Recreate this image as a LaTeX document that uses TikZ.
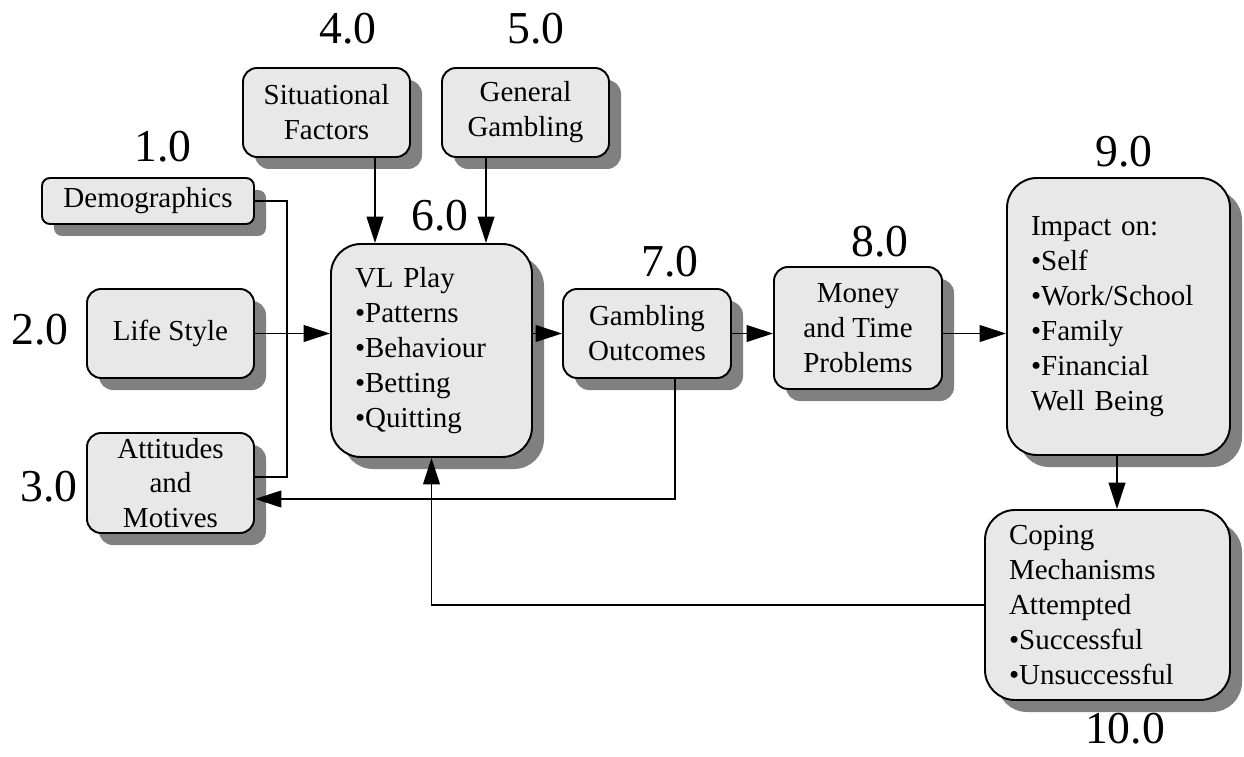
\documentclass[tikz,border=0pt]{standalone}
\usepackage{fontspec}
\setmainfont{Liberation Serif}
\usetikzlibrary{arrows.meta,shadows,calc}
\definecolor{boxfill}{HTML}{E8E8E8}
\definecolor{shadowgray}{HTML}{808080}
\begin{document}
\begin{tikzpicture}[x=0.02cm,y=-0.02cm,
  box/.style={draw=black,line width=1.1pt,fill=boxfill,rounded corners=0.28cm,
    drop shadow={shadow xshift=0.24cm,shadow yshift=-0.24cm,fill=shadowgray,opacity=1},
    font=\fontsize{16.5}{19.85}\selectfont,inner sep=0pt,align=center},
  bigbox/.style={box,rounded corners=0.6cm,align=left,inner xsep=0.48cm},
  sz/.style 2 args={minimum width=#1*0.02cm,minimum height=#2*0.02cm},
  tw/.style={text width=#1*0.02cm},
  num/.style={font=\fontsize{26}{30}\selectfont,inner sep=0pt},
  conn/.style={line width=1pt},
  arr/.style={conn,-{Triangle[length=15pt,width=9.5pt]}}]
\useasboundingbox (0,0) rectangle (1244,757);
% boxes
\node[box,rounded corners=0.16cm,sz={212}{46}] (demo) at (148,201) {Demographics};
\node[box,sz={167}{89}] (life) at (170.5,333.5) {Life Style};
\node[box,sz={167}{100}] (att) at (170.5,483) {Attitudes\\and\\Motives};
\node[box,sz={167}{89}] (sit) at (326.5,112.5) {Situational\\Factors};
\node[box,sz={167}{89}] (gen) at (525.5,112.5) {General\\Gambling};
\node[bigbox,sz={201}{213},tw={153}] (vl) at (431.5,350.5) {VL Play\\•Patterns\\•Behaviour\\•Betting\\•Quitting};
\node[box,sz={168}{89}] (go) at (647,333.5) {Gambling\\Outcomes};
\node[box,sz={168}{122}] (money) at (858,328) {Money\\and Time\\Problems};
\node[bigbox,sz={223}{277},tw={175}] (impact) at (1118.5,316.5) {Impact on:\\•Self\\•Work/School\\•Family\\•Financial\\Well Being};
\node[bigbox,sz={245}{190},tw={197}] (coping) at (1107.5,605) {Coping\\Mechanisms\\Attempted\\•Successful\\•Unsuccessful};
% numbers
\node[num] (n1) at (163,147) {1.0};
\node[num] (n2) at (40,330) {2.0};
\node[num] (n3) at (49,487) {3.0};
\node[num] (n4) at (348,29) {4.0};
\node[num] (n5) at (536,29) {5.0};
\node[num] (n6) at (440,216) {6.0};
\node[num] (n7) at (670,262) {7.0};
\node[num] (n8) at (880,242) {8.0};
\node[num] (n9) at (1124,152) {9.0};
\node[num] (n10) at (1125,729) {10.0};
% connectors
\coordinate (j1) at (287,201);
\coordinate (j2) at (287,477);
\draw[conn] (demo.east) -- (j1) -- (j2) -- (j2 -| att.east);
\draw[arr] (life.east) -- (life.east -| vl.west);
\draw[arr] ([xshift=0.97cm]sit.south) -- ([xshift=0.97cm]sit.south |- vl.north);
\draw[arr] ([xshift=-0.79cm]gen.south) -- ([xshift=-0.79cm]gen.south |- vl.north);
\draw[arr] (go.west -| vl.east) -- (go.west);
\draw[arr] (go.east) -- (go.east -| money.west);
\draw[arr] (go.east -| money.east) -- (go.east -| impact.west);
\draw[arr] ([xshift=-0.03cm]impact.south) -- ([xshift=-0.03cm]impact.south |- coping.north);
\coordinate (j3) at (675,499);
\draw[arr] ([xshift=0.56cm]go.south) -- (j3) -- (j3 -| att.east);
\draw[arr] (coping.west) -| (vl.south);
\end{tikzpicture}
\end{document}
